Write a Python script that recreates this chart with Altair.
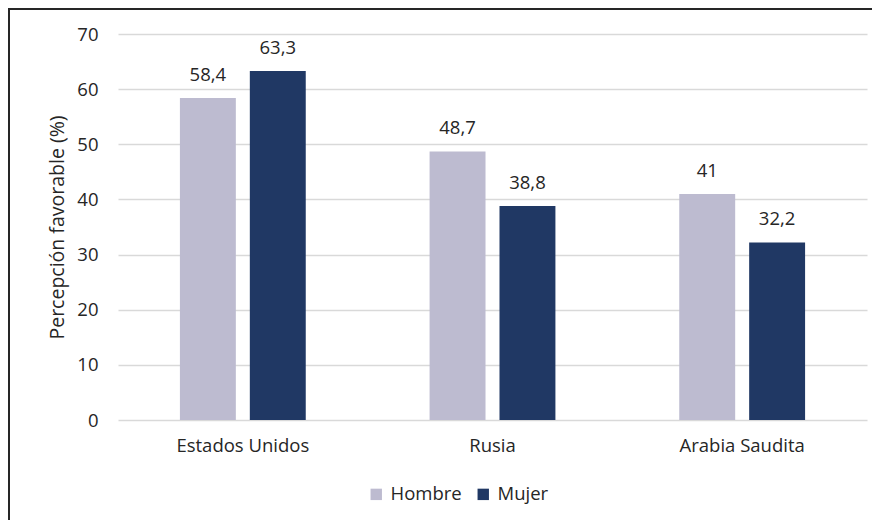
import altair as alt
import pandas as pd

paises = ["Estados Unidos", "Rusia", "Arabia Saudita"]
sexos = ["Hombre", "Mujer"]
hombre = [58.4, 48.7, 41.0]
mujer = [63.3, 38.8, 32.2]
colores = ["#BDBBD0", "#203864"]


def fmt(v):
    s = ("%.1f" % v).rstrip("0").rstrip(".")
    return s.replace(".", ",")


rows = []
for i, p in enumerate(paises):
    rows.append({"Pais": p, "Sexo": "Hombre", "Valor": hombre[i], "Label": fmt(hombre[i])})
    rows.append({"Pais": p, "Sexo": "Mujer", "Valor": mujer[i], "Label": fmt(mujer[i])})
df = pd.DataFrame(rows)

FONT = "Open Sans"
FS = 18.5
W, H = 749, 386

x = alt.X("Pais:N", sort=paises, title=None,
          scale=alt.Scale(paddingInner=0.496, paddingOuter=0.248),
          axis=alt.Axis(labelAngle=0, ticks=False, domain=False, labelPadding=16,
                        labelFontSize=FS, labelColor="#262626", labelFont=FONT))
xo = alt.XOffset("Sexo:N", sort=sexos, scale=alt.Scale(paddingInner=0.2, paddingOuter=0))
y = alt.Y("Valor:Q", title="Percepción favorable (%)",
          scale=alt.Scale(domain=[0, 70]),
          axis=alt.Axis(values=[0, 10, 20, 30, 40, 50, 60, 70], ticks=False, domain=False,
                        labelPadding=20, labelFontSize=FS, labelColor="#262626", labelFont=FONT,
                        titleFontSize=19.5, titleFont=FONT, titleColor="#262626",
                        titleFontWeight="normal", titlePadding=9,
                        gridColor="#D9D9D9", gridWidth=1.5))

base = alt.Chart(df)
bars = base.mark_bar().encode(
    x=x, xOffset=xo, y=y,
    color=alt.Color("Sexo:N", sort=sexos, title=None,
                    scale=alt.Scale(domain=sexos, range=colores),
                    legend=alt.Legend(orient="none", legendX=249, legendY=451,
                                      direction="horizontal", symbolType="square",
                                      symbolSize=130, symbolStrokeWidth=0,
                                      labelFontSize=FS, labelFont=FONT, labelColor="#262626",
                                      columnPadding=12, labelOffset=5)),
)
text = base.mark_text(baseline="bottom", dy=-13, fontSize=FS, font=FONT, color="#262626").encode(
    x=x, xOffset=xo, y=alt.Y("Valor:Q"), text="Label:N"
)
one = pd.DataFrame({"a": [0]})
top_line = alt.Chart(one).mark_rule(stroke="#262626", strokeWidth=2).encode(
    x=alt.value(-110), x2=alt.value(W + 5), y=alt.value(-25)
)
left_line = alt.Chart(one).mark_rule(stroke="#262626", strokeWidth=2).encode(
    x=alt.value(-109), y=alt.value(-26), y2=alt.value(H + 100)
)

chart = alt.layer(bars, text, top_line, left_line).properties(
    width=W, height=H,
    autosize="none",
    padding={"left": 110, "top": 26, "right": 5, "bottom": 100},
).configure_view(stroke=None)

chart.save("out.html", embed_options={"renderer": "svg", "actions": False})
